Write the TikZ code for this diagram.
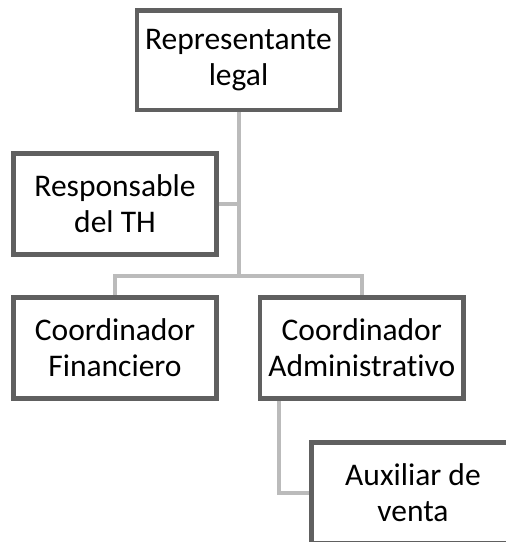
\documentclass[tikz,border=0pt]{standalone}
\usepackage{fontspec}
\setmainfont{Carlito}[Ligatures=NoCommon]
\usetikzlibrary{backgrounds}
\begin{document}
\begin{tikzpicture}[x=1pt,y=-1pt,
  box/.style={draw=boxgray,line width=4.6pt,fill=white,minimum width=203pt,minimum height=101pt,inner sep=0pt,align=center,font=\fontsize{31.5pt}{36pt}\selectfont},
  conn/.style={draw=conngray,line width=4pt}]
\definecolor{boxgray}{HTML}{606060}
\definecolor{conngray}{HTML}{BBBBBB}
\useasboundingbox (0,0) rectangle (506,542);
\clip (0,0) rectangle (506,542);
\node[box,minimum height=99.5pt] (top) at (238.5,60.25) {Representante\\legal};
\node[box] (resp) at (115,203.75) {Responsable\\del TH};
\node[box] (fin) at (115,348) {Coordinador\\Financiero};
\node[box,minimum width=203.5pt] (adm) at (361.75,348) {Coordinador\\Administrativo};
\node[box] (aux) at (413,493) {Auxiliar de\\venta};
\coordinate (j) at (238.5,275.7);
\begin{scope}[on background layer]
\draw[conn] (top.south) -- (j);
\draw[conn] (fin.north) |- (j) -| (adm.north);
\draw[conn] (resp.east) -- (resp.east -| top.south);
\draw[conn] ([xshift=21.7pt]adm.south west) |- (aux.west);
\end{scope}
\end{tikzpicture}
\end{document}
